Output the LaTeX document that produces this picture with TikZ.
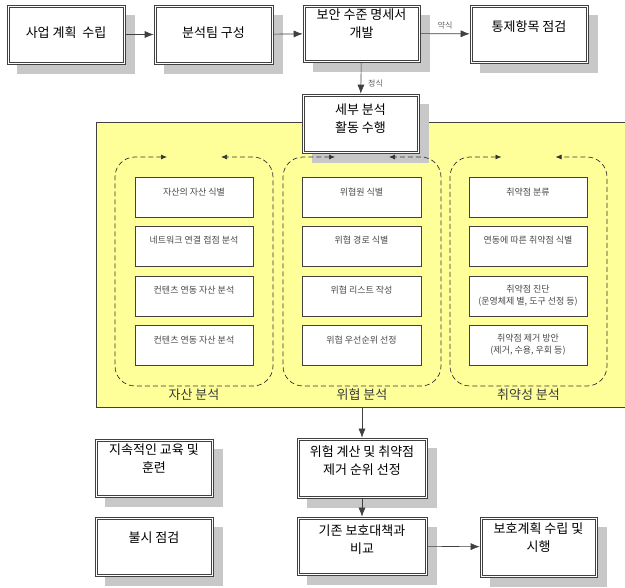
\documentclass[tikz,border=0pt]{standalone}
\usepackage{fontspec}
\setmainfont{Noto Sans CJK KR}
\usetikzlibrary{arrows.meta}
\definecolor{linec}{HTML}{404040}
\definecolor{shadowc}{HTML}{C8C8C8}
\definecolor{yellowbg}{HTML}{FFFF99}
\definecolor{innertext}{HTML}{4A4A4A}
\definecolor{grouptext}{HTML}{3A3A3A}
\definecolor{smalltext}{HTML}{606060}
\pgfdeclarelayer{back}
\pgfdeclarelayer{shade}
\pgfsetlayers{back,shade,main}

\begin{document}
\begin{tikzpicture}[x=1pt,y=-1pt,
  mainbox/.style={draw=linec, line width=0.6pt, fill=white, inner sep=0pt},
  innerbox/.style={draw=linec, line width=0.6pt, fill=white, inner sep=0pt,
    minimum height=40pt},
  boxtext/.style={inner sep=0pt, align=center, text=black,
    font=\fontsize{13}{18}\selectfont},
  intext/.style={inner sep=0pt, align=center, text=innertext,
    font=\fontsize{9}{12}\selectfont},
  grouplabel/.style={inner sep=0pt, text=grouptext, font=\fontsize{13}{15}\selectfont},
  arrlabel/.style={inner sep=1pt, text=smalltext, font=\fontsize{8}{9}\selectfont},
  arr/.style={draw=linec, line width=0.6pt, -{Latex[length=9pt,width=7pt]}},
  grouppath/.style={draw=black!80, line width=0.7pt, dash pattern=on 5pt off 3pt,
    rounded corners=20pt, {Latex[length=6pt,width=5pt]}-{Latex[length=6pt,width=5pt]}}
]
\useasboundingbox (0,0) rectangle (625,588);

% yellow working area, open on the right
\begin{pgfonlayer}{back}
\node[fill=yellowbg, inner sep=0pt, minimum width=529pt, minimum height=284pt] (yel) at (360.5,265) {};
\draw[linec, line width=0.6pt] (yel.north east) -- (yel.north west) -- (yel.south west) -- (yel.south east);
\end{pgfonlayer}

% top row
\node[mainbox, minimum width=118pt, minimum height=59pt] (plan1) at (66,34.5) {};
\node[mainbox, minimum width=119pt, minimum height=59pt] (team) at (213.5,34.5) {};
\node[mainbox, minimum width=117pt, minimum height=57pt] (spec) at (361.5,33.5) {};
\node[mainbox, minimum width=118pt, minimum height=58pt] (ctrl) at (529,34) {};
\node[mainbox, minimum width=117pt, minimum height=59pt] (detail) at (360.5,123.5) {};

% bottom part
\node[mainbox, minimum width=130pt, minimum height=60pt] (risk) at (362,468) {};
\node[mainbox, minimum width=130pt, minimum height=58pt] (cmp) at (362,546) {};
\node[mainbox, minimum width=117pt, minimum height=60pt] (exec) at (538.5,547) {};
\node[mainbox, minimum width=118pt, minimum height=58pt] (edu) at (154,468) {};
\node[mainbox, minimum width=118pt, minimum height=59pt] (spot) at (154,546.5) {};

% inner frame and drop shadow of every main box
\foreach \n in {plan1,team,spec,ctrl,detail,risk,cmp,exec,edu,spot} {
  \draw[linec, line width=0.6pt] ([shift={(2.3,2.3)}]\n.north west) rectangle ([shift={(-2.3,-2.3)}]\n.south east);
  \begin{pgfonlayer}{shade}
  \fill[shadowc] ([shift={(10,10)}]\n.north west) rectangle ([shift={(10,10)}]\n.south east);
  \end{pgfonlayer}
}

\node[boxtext] (t-plan1) at (66,33) {사업 계획\ \ 수립};
\node[boxtext] (t-team) at (213.5,33) {분석팀 구성};
\node[boxtext] (t-spec) at (361.5,24) {보안 수준 명세서\\개발};
\node[boxtext] (t-ctrl) at (529,27) {통제항목 점검};
\node[boxtext] (t-detail) at (360.5,119) {세부 분석\\활동 수행};

\draw[arr] (plan1) -- (team);
\draw[arr] (team) -- (spec);
\draw[arr] (spec) -- node[arrlabel, above=3pt] (l-short) {약식} (ctrl);
\draw[arr] (spec) -- node[arrlabel, pos=0.68, right=6pt] (l-full) {정식} (detail);

% analysis groups
\foreach \g/\l/\c/\r in {ga/115/194/273, gb/283/362/441, gc/450/528.5/607} {
  \coordinate (\g-s) at (\c-27,157);
  \coordinate (\g-e) at (\c+27,157);
  \draw[grouppath] (\g-s) -- (\l,157) -- (\l,386) -- (\r,386) -- (\r,157) -- (\g-e);
}

\foreach \g/\c/\w in {a/194/118, b/361.5/119, c/528/118} {
  \foreach \i/\y in {1/197, 2/246.5, 3/296, 4/345.5} {
    \node[innerbox, minimum width=\w pt] (\g\i) at (\c,\y) {};
  }
}

% texts of asset analysis
\node[intext] (ta1) at (194,192) {자산의 자산 식별};
\node[intext] (ta2) at (194,240) {네트워크 연결 접점 분석};
\node[intext] (ta3) at (194,290) {컨텐츠 연동 자산 분석};
\node[intext] (ta4) at (194,340) {컨텐츠 연동 자산 분석};
% texts of threat analysis
\node[intext] (tb1) at (361.5,192) {위협원 식별};
\node[intext] (tb2) at (361.5,240) {위협 경로 식별};
\node[intext] (tb3) at (361.5,290) {위협 리스트 작성};
\node[intext] (tb4) at (361.5,340) {위협 우선순위 선정};
% texts of vulnerability analysis
\node[intext] (tc1) at (528,192) {취약점 분류};
\node[intext] (tc2) at (528,240) {연동에 따른 취약점 식별};
\node[intext] (tc3) at (528,296) {취약점 진단\\(운영체제 별, 도구 선정 등)};
\node[intext] (tc4) at (528,345) {취약점 제거 방안\\(제거, 수용, 우회 등)};

\node[grouplabel] (la) at (194,395) {자산 분석};
\node[grouplabel] (lb) at (362,395) {위협 분석};
\node[grouplabel] (lc) at (528.5,395) {취약성 분석};

\node[boxtext] (t-risk) at (362,461) {위험 계산 및 취약점\\제거 순위 선정};
\node[boxtext] (t-cmp) at (362,539.5) {기존 보호대책과\\비교};
\node[boxtext] (t-exec) at (538.5,538) {보호계획 수립 및\\시행};
\node[boxtext] (t-edu) at (154,459) {지속적인 교육 및\\훈련};
\node[boxtext] (t-spot) at (154,538) {불시 점검};

\draw[arr] (risk.north |- yel.south) -- (risk.north);
\draw[arr] (risk) -- (cmp);
\draw[arr] (cmp) -- (exec);
\end{tikzpicture}
\end{document}
